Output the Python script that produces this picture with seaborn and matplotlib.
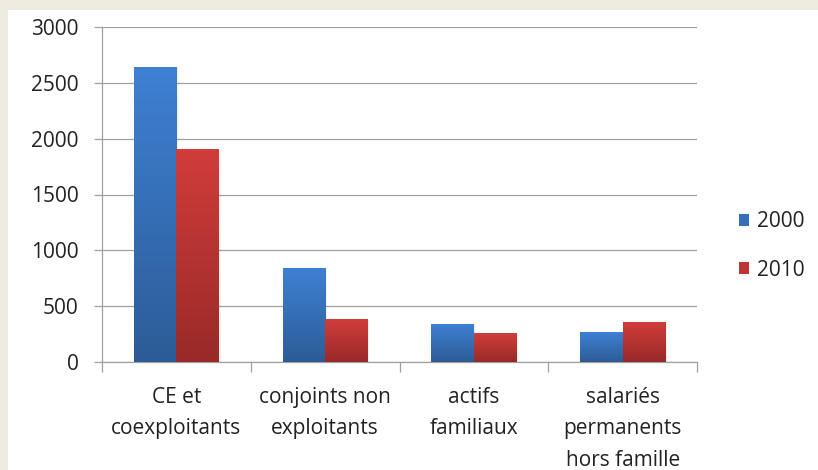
import numpy as np
import pandas as pd
import seaborn as sns
import matplotlib.pyplot as plt
from matplotlib.colors import LinearSegmentedColormap
from matplotlib.patches import Patch

# données
categories = ["CE et\ncoexploitants", "conjoints non\nexploitants",
              "actifs\nfamiliaux", "salariés\npermanents\nhors famille"]
years = ["2000", "2010"]
v2000 = [2640, 835, 335, 265]
v2010 = [1900, 380, 255, 355]

# couleurs haut / bas du dégradé
top_cols = {"2000": "#3f80d3", "2010": "#d03d3b"}
bot_cols = {"2000": "#2c5c97", "2010": "#992a28"}
mid_cols = {"2000": "#3670b8", "2010": "#bd3533"}

df = pd.DataFrame({
    "cat": categories * 2,
    "year": [years[0]] * 4 + [years[1]] * 4,
    "val": v2000 + v2010,
})

sns.set_style("white")
plt.rcParams['font.family'] = ['Open Sans', 'DejaVu Sans']
fs = 15

fig = plt.figure(figsize=(8.18, 4.70), dpi=100)
fig.patch.set_facecolor("#eeece1")
# panneau blanc
fig.add_artist(plt.Rectangle((8 / 818, 0), 1, 1 - 10 / 470, transform=fig.transFigure,
                             facecolor="white", edgecolor="none", zorder=0))

ax = fig.add_axes([102 / 818, 1 - 362 / 470, (697 - 102) / 818, (362 - 27) / 470])
ax.set_facecolor("none")

sns.barplot(data=df, x="cat", y="val", hue="year", order=categories, hue_order=years,
            palette=mid_cols, width=0.57, saturation=1, legend=False, ax=ax, zorder=3)

# dégradé vertical dans chaque barre
grad = np.linspace(0, 1, 256).reshape(-1, 1)
for yr, cont in zip(years, ax.containers):
    cmap = LinearSegmentedColormap.from_list("g" + yr, [top_cols[yr], bot_cols[yr]])
    for bar in cont:
        x0, y0 = bar.get_x(), bar.get_y()
        w, h = bar.get_width(), bar.get_height()
        # petite ombre à droite
        ax.add_patch(plt.Rectangle((x0 + w, y0), 0.012, h, facecolor="#000000",
                                   alpha=0.06, edgecolor="none", zorder=2))
        ax.imshow(grad, cmap=cmap, aspect="auto", extent=(x0, x0 + w, y0, y0 + h),
                  origin="upper", zorder=3.5, interpolation="bilinear")
        bar.set_visible(False)

ax.set_xlim(-0.5, 3.5)
ax.set_ylim(0, 3000)
ax.set_yticks(np.arange(0, 3001, 500))
ax.yaxis.grid(True, color="#a0a0a0", lw=0.9)
ax.set_axisbelow(True)
ax.set_xlabel("")
ax.set_ylabel("")

for s in ["top", "right"]:
    ax.spines[s].set_visible(False)
for s in ["left", "bottom"]:
    ax.spines[s].set_color("#a0a0a0")
    ax.spines[s].set_linewidth(0.9)

ax.tick_params(axis="y", length=6, width=0.9, color="#a0a0a0", pad=11,
               labelsize=fs, labelcolor="#222222", left=True)
ax.tick_params(axis="x", which="major", length=0, pad=18, labelsize=fs, labelcolor="#222222")
ax.set_xticks(np.arange(-0.5, 3.6, 1), minor=True)
ax.tick_params(axis="x", which="minor", length=7, width=0.9, color="#a0a0a0", bottom=True)
for t in ax.get_xticklabels():
    t.set_linespacing(1.65)
    t.set_verticalalignment("top")

handles = [Patch(facecolor=mid_cols[y], edgecolor="none", label=y) for y in years]
fig.legend(handles=handles, loc="center left", bbox_to_anchor=(720 / 818, 1 - 246 / 470),
           frameon=False, fontsize=fs, handlelength=0.5, handleheight=0.5,
           handletextpad=0.4, labelspacing=1.3, labelcolor="#222222")

fig.savefig("out.png", dpi=100, facecolor=fig.get_facecolor())
